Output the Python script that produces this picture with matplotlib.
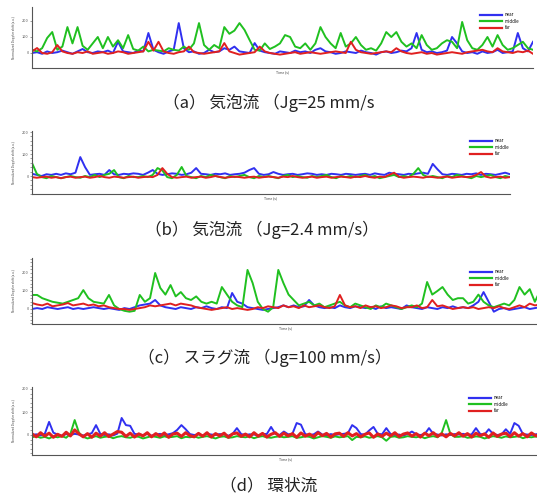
import numpy as np
import matplotlib
matplotlib.use("Agg")
import matplotlib.pyplot as plt
from matplotlib.ticker import MultipleLocator

plt.rcParams['font.family'] = ['Noto Sans CJK JP', 'DejaVu Sans']

W, H = 537, 501

# ---- data (values in plot units) ----
near_a = [0, 5, -5, 10, 0, 5, 15, 5, -5, 10, 25, 5, 0, 10, 5, 15, 0, 70, 10, 5,
          0, 15, 10, 125, 20, 5, -5, 10, 20, 187, 30, 5, 10, -5, 0, 20, 5, 10, 30, 20,
          40, 10, 5, 0, 62, 15, 5, 0, -5, 10, 5, 0, 15, 5, 10, 0, 20, 30, 10, 5,
          -5, 0, 10, 5, 0, 15, 5, 0, -10, 5, 10, 0, 5, 15, 10, 30, 125, 20, 5, 10,
          0, 5, 15, 100, 60, 10, 0, 5, -5, 10, 0, 5, 20, 0, 5, 10, 125, 30, 10, 70]
middle_a = [20, 10, 30, 94, 131, 20, 40, 162, 60, 162, 45, 20, 60, 100, 30, 100, 40, 80, 30, 112,
            25, 15, 40, 10, 20, 15, 10, 30, 20, 15, 40, 20, 60, 187, 50, 20, 50, 30, 162, 120,
            140, 187, 144, 81, 20, 15, 60, 25, 40, 60, 112, 100, 40, 30, 60, 20, 60, 162, 100, 60,
            30, 125, 40, 60, 100, 50, 20, 30, 15, 60, 131, 100, 131, 70, 40, 60, 30, 112, 50, 20,
            30, 60, 80, 70, 30, 194, 80, 30, 20, 50, 100, 40, 112, 50, 20, 30, 50, 70, 30, 20]
far_a = [10, 31, 0, -5, 5, 50, 10, 0, -5, 5, 0, 10, -5, 0, 5, -5, 0, 10, 5, -5,
         0, 5, 10, 70, 15, 70, 10, 0, -5, 5, 10, 40, 5, 0, -5, 0, 5, 10, 62, 10,
         0, -10, -5, 0, 5, 40, 10, 0, -5, -10, -5, 0, 5, -5, 0, 5, 0, -5, 0, 5,
         10, 5, 0, 70, 20, 5, 0, -5, 0, 5, 10, 5, 30, 10, 0, -5, 0, 5, -5, 0,
         -10, -5, 0, 5, 0, -5, 5, 10, 15, 20, 10, 5, 30, 10, 5, 0, 10, 5, 15, -5]

near_b = [10, 5, 0, 8, 5, 10, 5, 12, 8, 15, 86, 40, 5, 8, 10, 5, 27, 8, 5, 10,
          8, 12, 10, 5, 15, 27, 10, 5, 8, 12, 10, 5, 8, 15, 36, 10, 8, 5, 10, 8,
          12, 5, 8, 10, 15, 27, 36, 10, 5, 8, 18, 10, 5, 8, 10, 5, 8, 12, 10, 5,
          8, 5, 10, 8, 5, 10, 8, 5, 8, 10, 5, 12, 8, 5, 15, 10, 8, 5, 10, 8,
          12, 15, 10, 55, 30, 8, 5, 10, 8, 5, 10, 8, 12, 5, 10, 8, 5, 10, 15, 8]
middle_b = [59, 10, -5, -10, 0, -5, -10, -5, 0, -5, -8, 0, -5, 5, -5, 5, 10, 27, -5, -10,
            0, -5, -5, 0, -5, 5, 36, 25, -5, -10, 5, 41, 0, -5, -10, 0, -5, 5, 0, -5,
            -10, 0, -5, 0, 5, -5, -10, 0, -5, 0, -5, -10, 0, 5, -5, 0, -5, -8, 0, -5,
            0, 5, -5, -10, 0, -5, 0, -5, 0, 5, -5, 0, -10, -5, 0, 5, -5, 0, -5, 10,
            36, 5, -5, 0, -5, -10, 0, -5, 5, 0, -5, -10, 0, -5, 0, 5, -5, -10, 0, -5]
far_b = [-5, -8, -5, -3, -8, -5, -10, -5, -3, -8, -5, -3, -8, -5, 0, -5, -8, -3, -5, -8,
         -5, -3, -8, -5, -3, -5, 5, 36, 10, -5, -8, -5, -3, -8, -5, -3, -8, -5, 0, -5,
         -8, -5, -3, -5, -8, -5, -3, -8, -5, -3, -5, -8, -3, -5, 0, -5, -8, -5, -3, -8,
         -5, -3, -8, -5, -3, -5, -8, -3, -5, 0, -5, -8, -3, -5, 5, 15, -3, -8, -5, -3,
         -5, -8, -3, -5, -8, -5, -3, -8, -5, -3, -5, -3, 5, 18, -3, -8, -5, -3, -8, -5]

near_c = [0, 5, 0, 10, 5, 0, 5, 10, 0, 5, 0, 5, 10, 5, 0, 5, 0, -5, 5, 0,
          10, 20, 25, 30, 50, 20, 10, 5, 0, 10, 5, 0, 10, 5, 15, 5, 0, 10, 5, 89,
          40, 30, 10, 5, 0, -5, 0, 5, 10, 20, 10, 20, 10, 15, 50, 20, 10, 5, 10, 5,
          20, 10, 5, 15, 10, 5, 10, 0, 15, 5, 10, 5, 0, 20, 10, 5, 0, 10, 5, 0,
          10, 5, 15, 5, 10, 5, 20, 40, 94, 40, -15, 0, 5, -5, 0, 5, 10, 0, 5, 10]
middle_c = [78, 78, 60, 50, 40, 35, 30, 40, 50, 60, 105, 60, 40, 35, 30, 78, 20, 0, -10, -15,
            -10, 78, 40, 60, 200, 117, 80, 133, 70, 94, 60, 50, 70, 40, 30, 40, 30, 122, 80, 40,
            20, 10, 217, 144, 40, 0, -15, 10, 217, 144, 80, 50, 20, 30, 40, 20, 30, 10, 20, 30,
            40, 20, 10, 30, 20, 10, 0, 20, 10, 30, 20, 10, 0, 10, 20, 10, 30, 150, 80, 100,
            122, 80, 50, 60, 60, 30, 40, 80, 40, 20, 10, 20, 30, 20, 50, 122, 80, 110, 40, 100]
far_c = [33, 25, 20, 30, 15, 20, 25, 33, 20, 25, 30, 20, 25, 15, 20, 10, 5, 0, 0, -5,
         0, 5, 10, 20, 15, 20, 25, 30, 20, 30, 25, 20, 10, 5, 0, -5, 0, 5, 10, 0,
         5, 0, -5, 0, 10, 5, 15, 10, 5, 20, 10, 15, 5, 20, 10, 15, 20, 10, 5, 15,
         78, 20, 10, 15, 5, 20, 10, 15, 5, 10, 20, 15, 5, 10, 10, 20, 5, 10, 50, 15,
         20, 10, 0, 5, 10, 5, 10, 0, 5, 10, 5, 15, 5, 0, 10, 20, 10, 30, 20, 25]

near_d = [0, 3, -2, 5, 57, 10, 2, -3, 4, 0, 5, 2, -2, 3, 8, 43, 5, 0, 3, -2,
          6, 74, 43, 40, 5, 2, 0, 4, -3, 2, 5, 0, 3, 8, 22, 43, 25, 4, 0, 3,
          -2, 5, 2, 0, 4, 3, -3, 5, 30, 4, 0, 3, 2, -2, 5, 4, 35, 5, 0, 15,
          3, 5, 52, 45, 4, 0, 3, 15, 2, -2, 4, 0, 3, 5, 8, 43, 30, 4, 2, 20,
          35, 5, 3, 30, 4, 0, 2, -3, 5, 15, 3, 0, 4, 30, 5, 2, -2, 3, 0, 4,
          2, 5, 0, 3, 30, 4, 2, 25, 5, 0, 3, 25, 5, 52, 40, 4, 2, 0, 3, 5]
middle_d = [-10, -5, -12, -8, -15, -6, -10, -5, -12, 5, 65, 10, -8, -15, -10, -5, -12, -8, -6, -14,
            -8, -5, -10, -12, -6, -8, -15, -10, -5, -8, -12, -6, -10, -8, -5, -14, -8, -10, -6, -12,
            -8, -5, -10, -15, -8, -6, -12, -10, -5, -8, -10, -6, -14, -8, -5, -10, -12, -8, -6, -10,
            -8, -5, -12, -10, -6, -8, -15, -10, -5, -8, -12, -6, -10, -8, -5, -22, -8, -10, -6, -12,
            -8, -5, -10, -25, -8, -6, -12, -10, -5, -8, -10, -6, -14, -8, -5, -10, 10, 65, 5, -8,
            -8, -5, -12, -10, -6, -8, -15, -10, -5, -8, -12, -6, -10, -8, -5, -14, -8, -10, -6, -12]
far_d = [5, -8, 10, -5, 8, -10, 3, -6, 12, -4, 22, 5, -8, 6, -10, 8, -5, 10, -7, 4,
         15, 12, -6, 8, -9, 5, -4, 10, -8, 6, -5, 9, -10, 4, 8, -6, 10, -3, -8, 7,
         -5, 10, -9, 6, -4, 8, -10, 5, 9, -6, 4, -8, 10, -5, 7, -9, 3, 10, -6, 8,
         -4, 6, -10, 9, -5, 4, -8, 10, -3, 7, -9, 5, 8, -6, 10, -4, 6, -8, 3, 9,
         -10, 5, -6, 8, -4, 10, -7, 4, 9, -5, 6, -9, 8, -3, 10, -6, 5, -8, 7, -4,
         10, -5, 6, -9, 8, -3, 5, -10, 9, -6, 4, 8, -7, 10, -5, 6, -8, 9, -4, 5]

captions = ['（a） 気泡流 （Jg=25 mm/s',
            '（b） 気泡流 （Jg=2.4 mm/s）',
            '（c） スラグ流 （Jg=100 mm/s）',
            '（d） 環状流']
labels = ['near', 'middle', 'far']
colors = ['#3030f0', '#20c020', '#e02020']

# panel boxes in pixels: left, right, top, bottom, y at 0, pixels per 100
boxes = [(32, 533, 7, 68, 53, 16),
         (32, 510, 131, 194, 176, 22),
         (32, 540, 258, 324, 309, 18),
         (32, 540, 387, 455, 435, 23)]
legend_pos = [(478, 10), (468, 136), (468, 267), (467, 393)]
caption_pos = [(269, 103), (262, 230), (265, 358), (269, 486)]
series = [(near_a, middle_a, far_a), (near_b, middle_b, far_b),
          (near_c, middle_c, far_c), (near_d, middle_d, far_d)]

fig = plt.figure(figsize=(W / 100, H / 100), dpi=100)

for k, (l, r, t, b, y0, s) in enumerate(boxes):
    ax = fig.add_axes([l / W, 1 - b / H, (r - l) / W, (b - t) / H])
    for vals, lab, c in zip(series[k], labels, colors):
        x = np.linspace(0, 100, len(vals))
        lw = 2.2 if (k == 3 and lab == 'far') else 1.4
        ax.plot(x, vals, color=c, lw=lw, label=lab)
    ax.set_xlim(0, 100)
    ax.set_ylim((y0 - b) * 100 / s, (y0 - t) * 100 / s)
    for sp in ['top', 'right']:
        ax.spines[sp].set_visible(False)
    for sp in ['left', 'bottom']:
        ax.spines[sp].set_color('#555555')
        ax.spines[sp].set_linewidth(0.8)
    ax.set_xticks([])
    ax.yaxis.set_major_locator(MultipleLocator(100))
    if k > 0:
        ax.yaxis.set_minor_locator(MultipleLocator(20))
    ax.tick_params(axis='y', which='both', labelsize=2.8, length=1.5, width=0.4,
                   colors='#555555', pad=1)
    ax.set_ylabel('Normalized Doppler shift (a.u.)', fontsize=2.2, labelpad=4, color='#444444')
    ax.set_xlabel('Time (s)', fontsize=2.5, labelpad=2, color='#444444')
    lx, ly = legend_pos[k]
    leg = ax.legend(loc='upper left', bbox_to_anchor=(lx / W, 1 - ly / H),
                    bbox_transform=fig.transFigure, frameon=False, fontsize=3.2,
                    handlelength=5, handletextpad=0.6, labelspacing=0.35, borderpad=0)
    for ln in leg.get_lines():
        ln.set_linewidth(1.6)
    cx, cy = caption_pos[k]
    fig.text(cx / W, 1 - cy / H, captions[k], ha='center', va='center',
             fontsize=12, color='#222222')

fig.savefig('out.png', dpi=100)
